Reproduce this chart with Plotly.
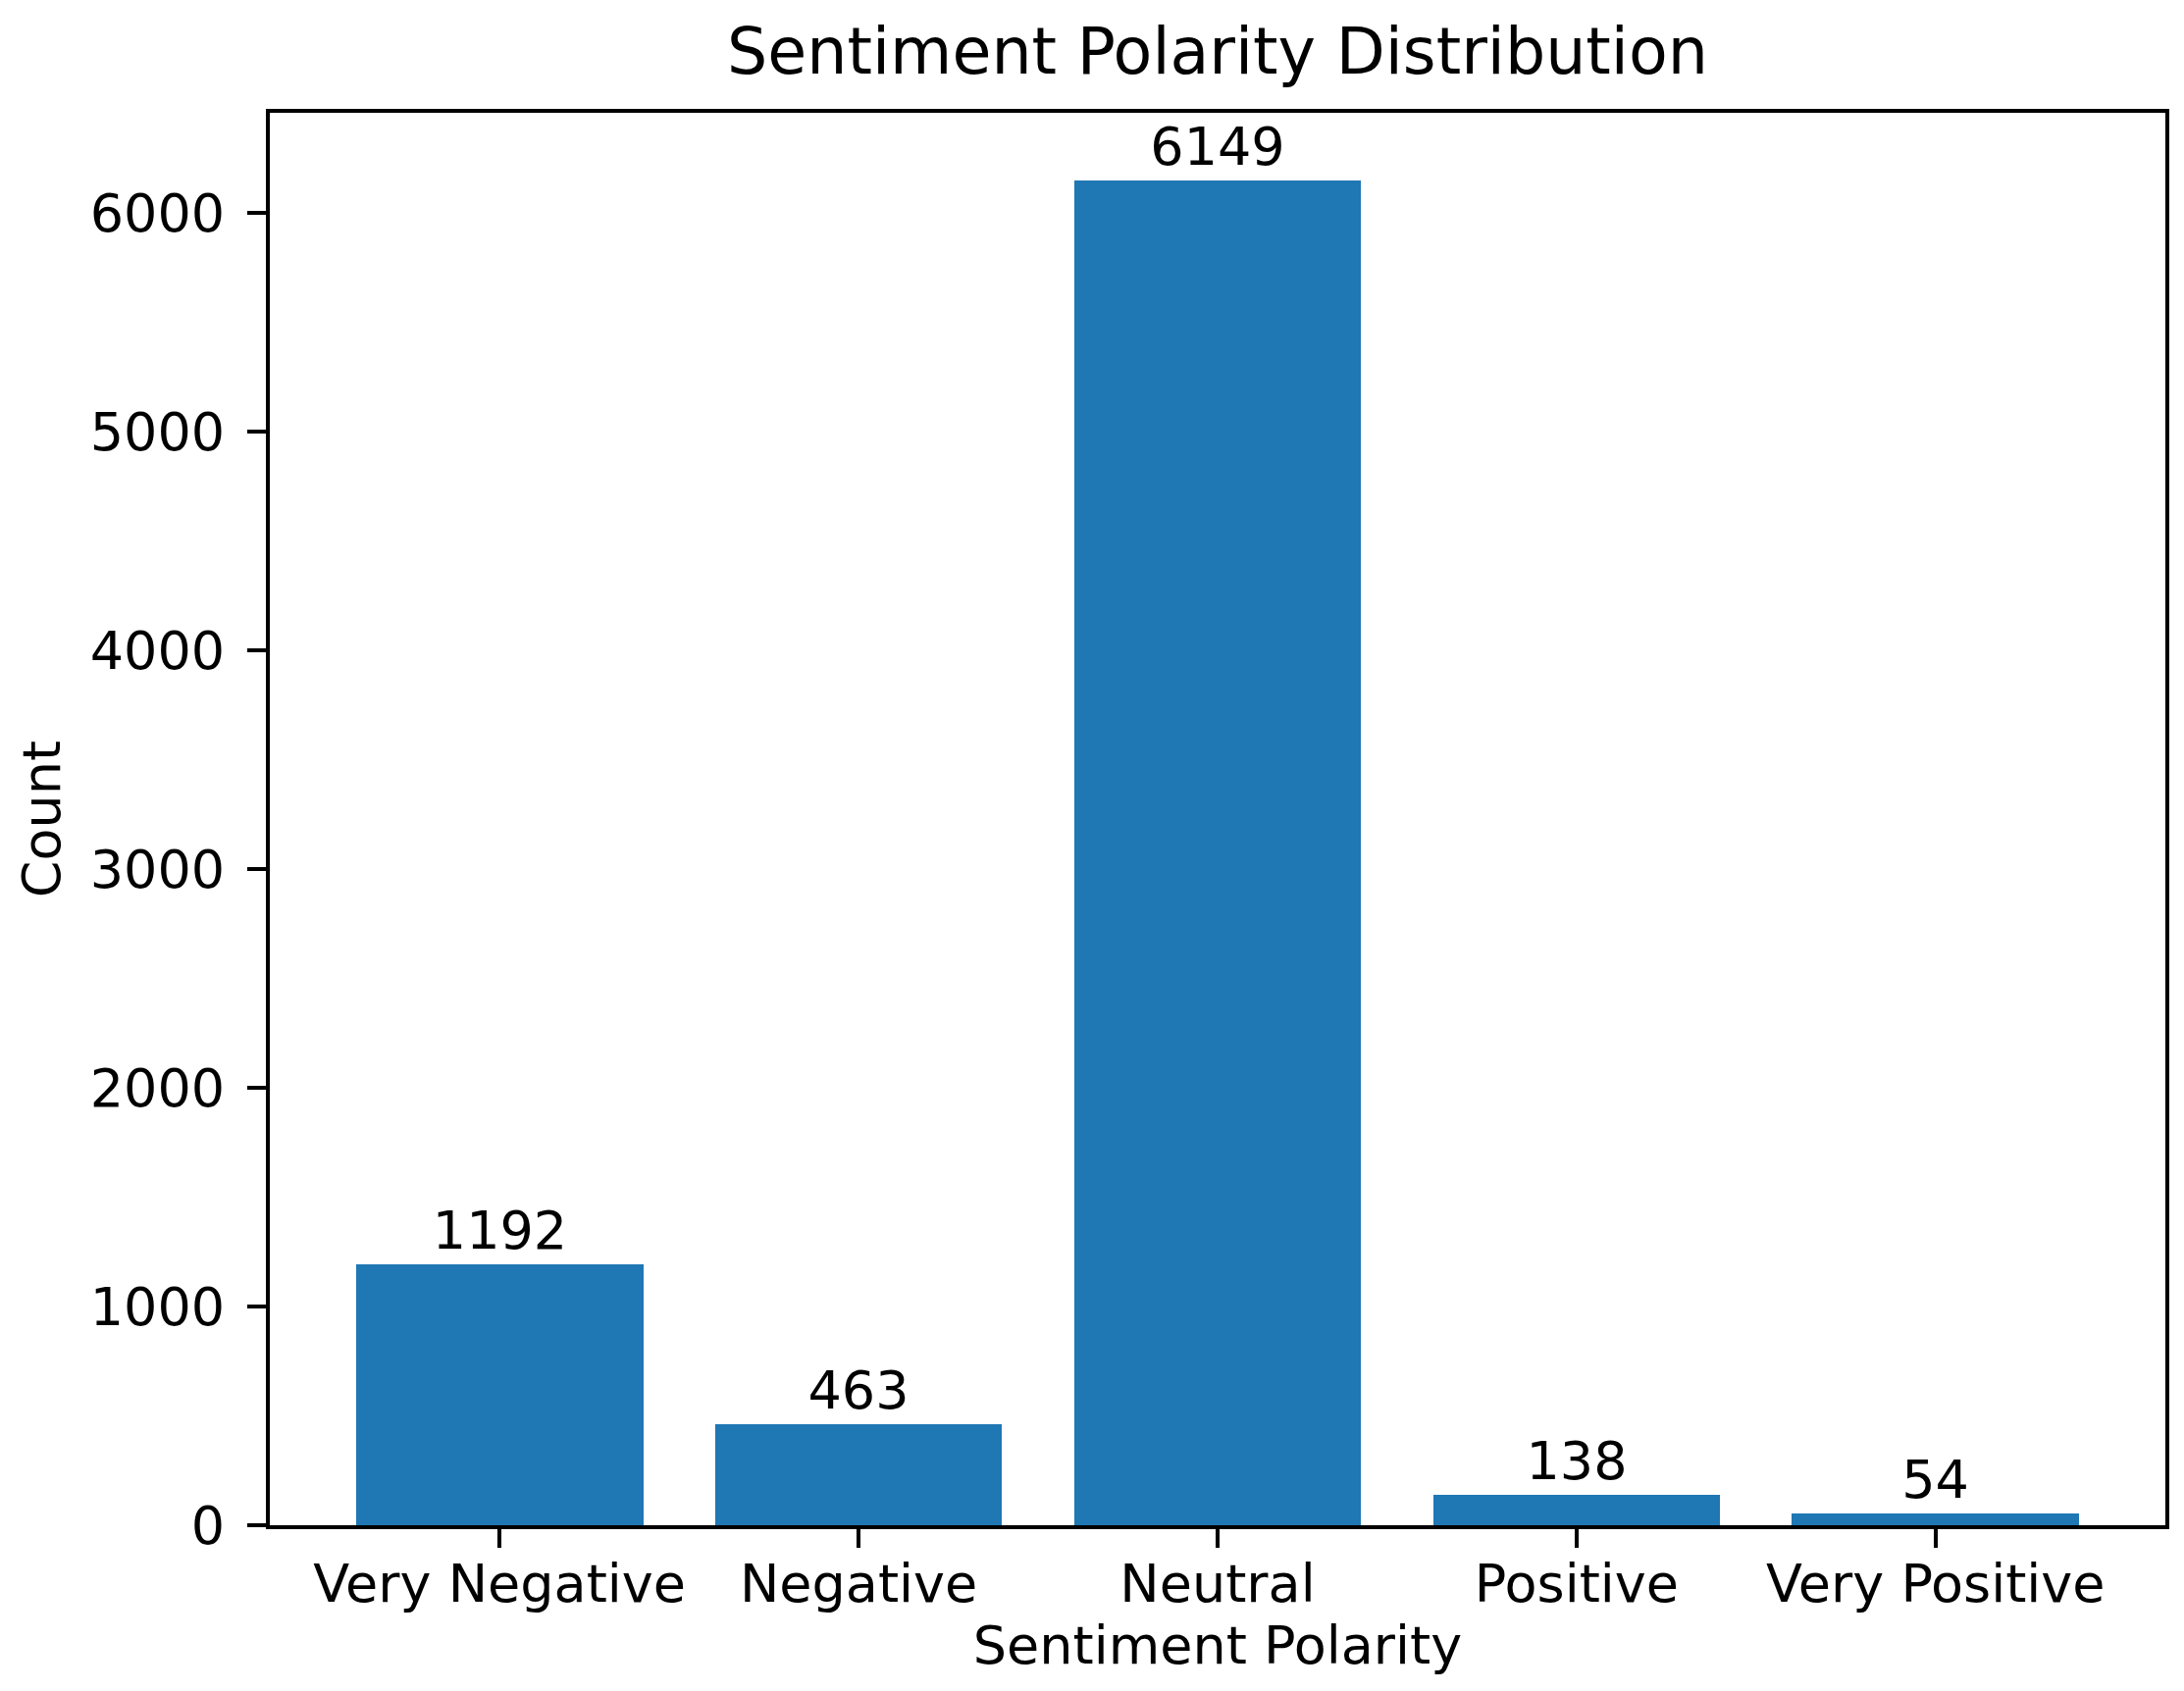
import plotly.graph_objects as go

categories = ["Very Negative", "Negative", "Neutral", "Positive", "Very Positive"]
counts = [1192, 463, 6149, 138, 54]
y_ticks = [0, 1000, 2000, 3000, 4000, 5000, 6000]

FONT = "DejaVu Sans"
TICK_SIZE = 54
TITLE_SIZE = 65

fig = go.Figure(
    go.Bar(
        x=list(range(len(categories))),
        y=counts,
        width=0.8,
        marker=dict(color="#1f77b4", line=dict(width=0)),
        text=[str(c) for c in counts],
        textposition="outside",
        textfont=dict(family=FONT, size=TICK_SIZE, color="black"),
        cliponaxis=False,
    )
)

fig.update_layout(
    width=2226,
    height=1724,
    paper_bgcolor="white",
    plot_bgcolor="white",
    margin=dict(l=267, r=27, t=107, b=177),
    font=dict(family=FONT, size=TICK_SIZE, color="black"),
    title=dict(
        text="Sentiment Polarity Distribution",
        font=dict(family=FONT, size=TITLE_SIZE, color="black"),
        x=0.5 * (267 + 2199) / 2226,
        xanchor="center",
        y=1 - 44 / 1724,
        yanchor="middle",
    ),
    showlegend=False,
    bargap=0,
    uniformtext=dict(mode=False),
)

fig.update_xaxes(
    range=[-0.64, 4.64],
    tickmode="array",
    tickvals=list(range(len(categories))),
    ticktext=categories,
    ticks="outside",
    ticklen=19,
    tickwidth=4,
    tickcolor="black",
    ticklabelstandoff=-10,
    showline=True,
    linecolor="black",
    linewidth=4,
    mirror=True,
    showgrid=False,
    zeroline=False,
    tickfont=dict(family=FONT, size=TICK_SIZE, color="black"),
    title=dict(text="Sentiment Polarity", font=dict(family=FONT, size=TICK_SIZE, color="black"), standoff=14),
)

fig.update_yaxes(
    range=[0, 6149 * 1.05],
    tickmode="array",
    tickvals=y_ticks,
    ticktext=[str(v) for v in y_ticks],
    ticks="outside",
    ticklen=19,
    tickwidth=4,
    tickcolor="black",
    ticklabelstandoff=12,
    showline=True,
    linecolor="black",
    linewidth=4,
    mirror=True,
    showgrid=False,
    zeroline=False,
    tickfont=dict(family=FONT, size=TICK_SIZE, color="black"),
    title=dict(text="Count", font=dict(family=FONT, size=TICK_SIZE, color="black"), standoff=14),
)

fig.write_html("out.html")
